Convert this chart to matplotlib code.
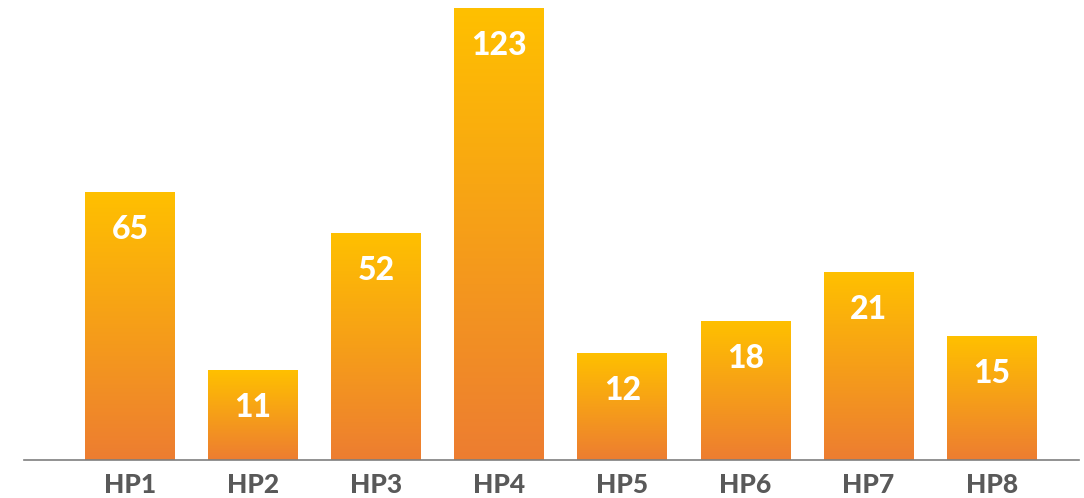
import numpy as np
import matplotlib.pyplot as plt
from matplotlib.colors import LinearSegmentedColormap

categories = ["HP1", "HP2", "HP3", "HP4", "HP5", "HP6", "HP7", "HP8"]
values = [65, 11, 52, 123, 12, 18, 21, 15]
# bar heights as drawn in the picture (the chart is not to scale)
heights = [267, 89, 226, 451, 106, 138, 187, 123]

TOP_COLOR = '#FFC000'
BOTTOM_COLOR = '#ED7D31'
grad = LinearSegmentedColormap.from_list('bar_grad', [BOTTOM_COLOR, TOP_COLOR])

plt.rcParams['font.family'] = ['Lato', 'DejaVu Sans']

fig = plt.figure(figsize=(10.84, 4.98), dpi=100)
ax = fig.add_axes([24 / 1084, 38 / 498, (1079 - 24) / 1084, 460 / 498])

x = np.arange(len(categories))
bars = ax.bar(x, heights, width=0.73, color='none', edgecolor='none', zorder=2)

g = np.linspace(0, 1, 256).reshape(-1, 1)
for b, v in zip(bars, values):
    x0, w, h = b.get_x(), b.get_width(), b.get_height()
    ax.imshow(g, cmap=grad, origin='lower', aspect='auto',
              extent=[x0, x0 + w, 0, h], zorder=2, interpolation='bicubic')
    ax.text(x0 + w / 2, h - 22, str(v), ha='center', va='top',
            color='white', fontsize=23, fontweight=900, zorder=3)

ax.set_xlim(-0.861, 7.709)
ax.set_ylim(0, 460)

ax.axhline(0, color='#7f7f7f', linewidth=1.2, zorder=4, clip_on=False)

for s in ax.spines.values():
    s.set_visible(False)
ax.set_yticks([])
ax.set_xticks(x)
ax.set_xticklabels(categories, fontsize=19, fontweight=900, color='#595959')
ax.tick_params(axis='x', length=0, pad=9)

fig.savefig('out.png', dpi=100)
